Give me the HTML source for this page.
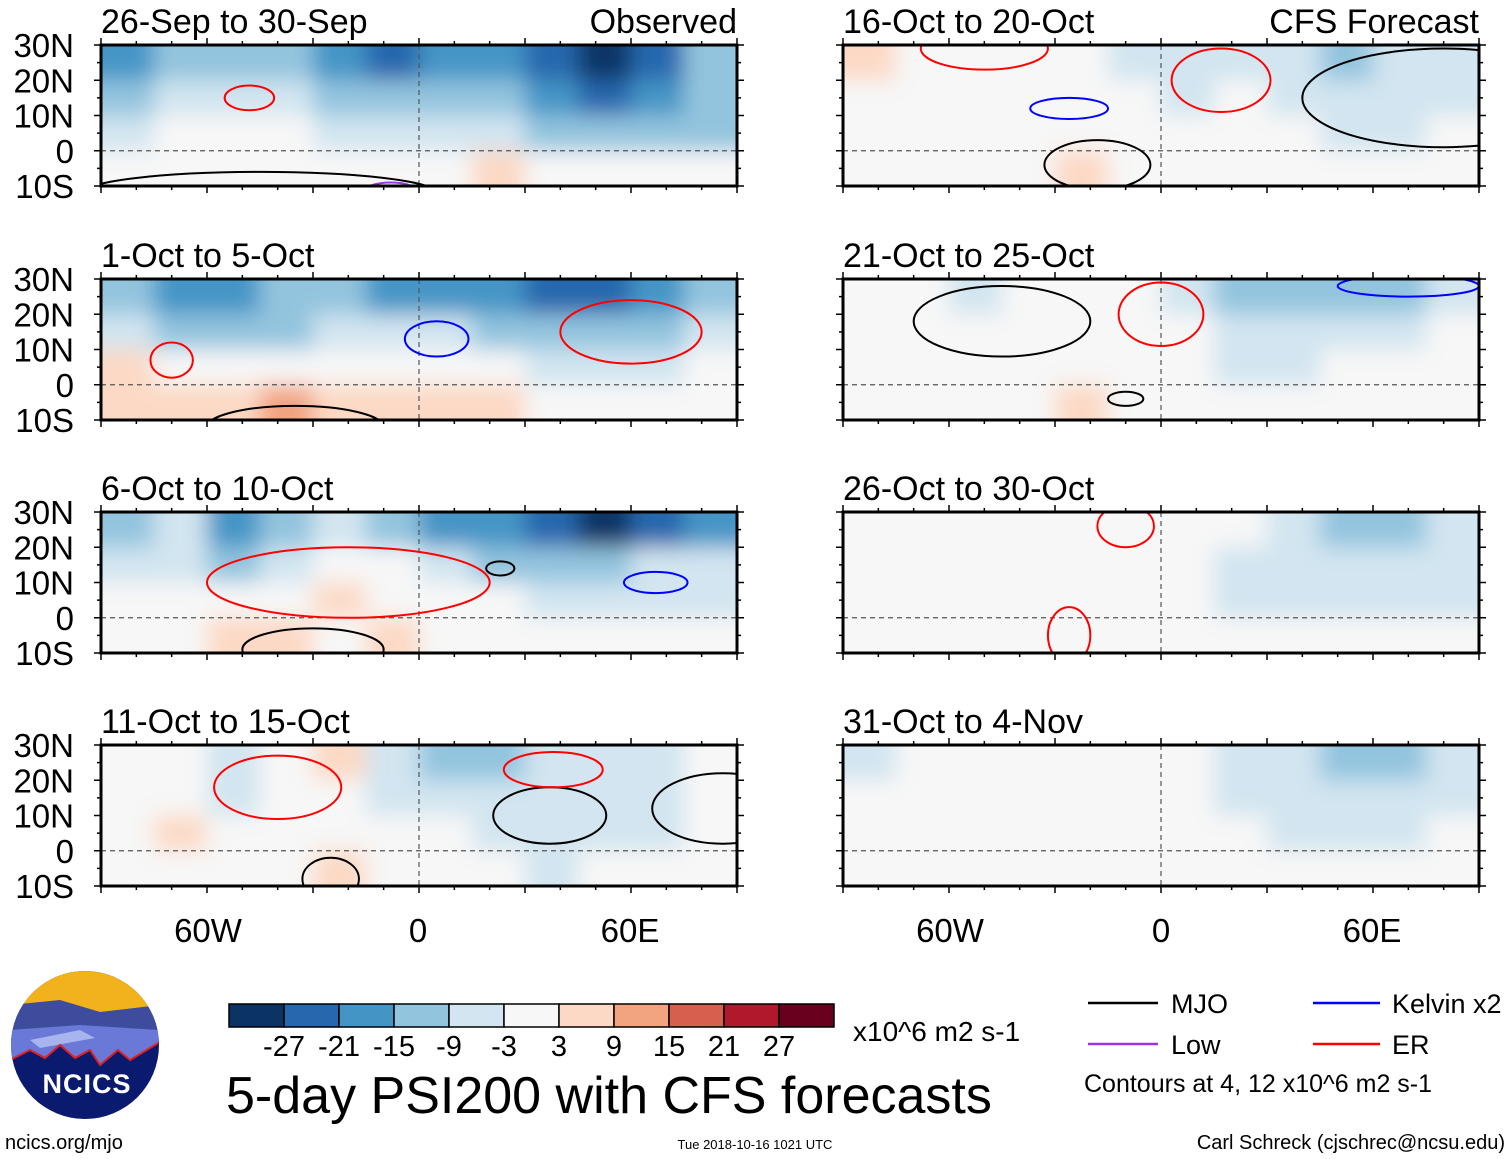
<!DOCTYPE html>
<html><head><meta charset="utf-8">
<style>
body{margin:0;background:#fff;}
svg{display:block;font-family:"Liberation Sans",Arial,sans-serif;}
</style></head><body>
<svg id="fig" width="1510" height="1159" viewBox="0 0 1510 1159" xmlns="http://www.w3.org/2000/svg">
<defs>
<filter id="blur" x="-10%" y="-20%" width="120%" height="140%"><feGaussianBlur stdDeviation="11"/></filter>
</defs>
<g id="panels"></g>
<g font-size="33" text-anchor="middle">
<text x="208" y="942">60W</text><text x="418" y="942">0</text><text x="630" y="942">60E</text>
<text x="950" y="942">60W</text><text x="1161" y="942">0</text><text x="1372" y="942">60E</text>
</g>
<g>
<clipPath id="lc"><circle cx="85" cy="1045" r="74"/></clipPath>
<g clip-path="url(#lc)">
<rect x="10" y="970" width="150" height="150" fill="#0a1a6e"/>
<rect x="10" y="970" width="150" height="45" fill="#f2b21b"/>
<path d="M10 1005 L60 1000 L100 1012 L160 1005 L160 1030 L120 1040 L80 1030 L10 1040Z" fill="#3d4c9c"/>
<path d="M10 1030 L80 1025 L160 1030 L160 1042 L130 1060 L118 1050 L100 1065 L90 1050 L75 1058 L60 1045 L45 1058 L30 1050 L10 1060Z" fill="#6a78d8"/>
<path d="M30 1040 L80 1030 L95 1038 L40 1048Z" fill="#a8b4ee"/>
<path d="M10 1060 L30 1050 L45 1058 L60 1045 L75 1058 L90 1050 L100 1065 L118 1050 L130 1060 L160 1042" fill="none" stroke="#e02020" stroke-width="2"/>
</g>
<text x="87" y="1093" font-size="27" font-weight="bold" fill="#fff" text-anchor="middle" letter-spacing="1">NCICS</text>
</g>
<text x="5" y="1149" font-size="20">ncics.org/mjo</text>
<g id="cbar"></g>
<text x="853" y="1041" font-size="28">x10^6 m2 s-1</text>
<text x="226" y="1113" font-size="52">5-day PSI200 with CFS forecasts</text>
<text x="755" y="1149" font-size="13" text-anchor="middle">Tue 2018-10-16 1021 UTC</text>
<g font-size="27">
<g><line x1="1088" y1="1003" x2="1158" y2="1003" stroke="#000" stroke-width="2.5"/><text x="1171" y="1013">MJO</text></g>
<g><line x1="1313" y1="1003" x2="1380" y2="1003" stroke="#0000ff" stroke-width="2.5"/><text x="1392" y="1013">Kelvin x2</text></g>
<g><line x1="1088" y1="1044" x2="1158" y2="1044" stroke="#9933ee" stroke-width="2.5"/><text x="1171" y="1054">Low</text></g>
<g><line x1="1313" y1="1044" x2="1380" y2="1044" stroke="#ff0000" stroke-width="2.5"/><text x="1392" y="1054">ER</text></g>
<text x="1084" y="1092" font-size="25">Contours at 4, 12 x10^6 m2 s-1</text>
</g>
<text x="1505" y="1149" font-size="20" text-anchor="end">Carl Schreck (cjschrec@ncsu.edu)</text>
</svg>
<script>
const levels = [-27,-21,-15,-9,-3,3,9,15,21,27];
const levelLabels = ["-27","-21","-15","-9","-3","3","9","15","21","27"];
const binColors = ["#0b3465","#2767ad","#4495c6","#93c4de","#d2e5f0","#f7f7f7","#fcd9c5","#f2a37f","#d6604d","#b2182b","#67001f"];
const lonCenters = [-82.5,-67.5,-52.5,-37.5,-22.5,-7.5,7.5,22.5,37.5,52.5,67.5,82.5];
const latCenters = [25,15,5,-5];
const panelTitles = ["26-Sep to 30-Sep","1-Oct to 5-Oct","6-Oct to 10-Oct","11-Oct to 15-Oct","16-Oct to 20-Oct","21-Oct to 25-Oct","26-Oct to 30-Oct","31-Oct to 4-Nov"];
const p1 = [[-15,-12,-12,-9,-15,-21,-18,-15,-21,-27,-21,-12],[-9,-6,-3,-3,-9,-12,-12,-9,-15,-21,-15,-9],[-3,0,0,0,-3,-3,-3,-6,-9,-9,-9,-9],[3,3,0,0,3,3,3,6,3,3,3,3]];
const p2 = [[-12,-15,-18,-9,-9,-15,-15,-15,-21,-21,-15,-12],[-6,-9,-12,-9,-6,-6,-6,-9,-12,-12,-9,-6],[6,3,0,0,0,0,3,3,-3,-3,-3,0],[9,6,6,12,9,6,6,6,3,3,3,3]];
const p3 = [[-9,-6,-15,-9,-6,-9,-15,-15,-21,-27,-21,-15],[-3,-3,-9,-3,0,0,-6,-9,-9,-9,-6,-6],[0,0,0,3,6,3,3,3,-3,-3,-3,-3],[0,0,6,6,3,6,3,3,0,0,0,0]];
const p4 = [[3,0,-3,0,9,-6,-12,-9,-3,-3,-3,0],[0,0,-3,0,0,-3,-6,-6,-6,-3,-3,0],[3,6,0,0,3,0,0,-3,-3,-3,-3,0],[3,0,0,0,9,3,0,0,-3,0,0,0]];
const p5 = [[6,3,0,0,0,-3,-3,-3,-6,-9,-6,-3],[0,0,0,0,0,0,-3,0,-3,-6,-6,-3],[0,0,0,0,3,3,3,0,0,-3,-3,0],[0,0,0,3,6,3,0,3,3,3,3,3]];
const p6 = [[0,0,-3,0,3,3,-3,-9,-12,-12,-9,-3],[0,0,0,0,3,3,0,-6,-6,-6,-3,0],[0,0,0,0,3,3,0,-3,-3,0,0,3],[0,0,0,0,6,3,3,3,3,3,3,3]];
const p7 = [[0,0,0,0,3,3,0,0,-6,-9,-12,-6],[0,0,0,0,3,3,0,-3,-3,-6,-6,-3],[0,0,0,0,3,3,0,-3,-3,-3,-3,-3],[0,0,0,0,0,0,0,0,0,0,0,0]];
const p8 = [[-3,0,0,3,3,0,0,-3,-6,-9,-9,-6],[0,0,0,3,3,0,0,-3,-3,-6,-6,-3],[0,0,0,0,3,0,0,0,-3,-3,-3,0],[0,0,0,0,0,0,0,0,0,0,0,0]];
const fields = [p1,p2,p3,p4,p5,p6,p7,p8];
const c1 = [[-48,15,7,3.5,"e"],[-45,-12,50,6,"m"],[-8,-12,8,3,"l"]];
const c2 = [[5,13,9,5,"k"],[-70,7,6,5,"e"],[60,15,20,9,"e"],[-35,-12,25,6,"m"]];
const c3 = [[-20,10,40,10,"e"],[23,14,4,2,"m"],[67,10,9,3,"k"],[-30,-9,20,6,"m"]];
const c4 = [[37,10,16,8,"m"],[86,12,20,10,"m"],[-40,18,18,9,"e"],[38,23,14,5,"e"],[-25,-8,8,6,"m"]];
const c5 = [[-26,12,11,3,"k"],[-50,29,18,6,"e"],[17,20,14,9,"e"],[-18,-4,15,7,"m"],[80,15,40,14,"m"]];
const c6 = [[0,20,12,9,"e"],[-10,-4,5,2,"m"],[-45,18,25,10,"m"],[70,28,20,3,"k"]];
const c7 = [[-10,26,8,6,"e"],[-26,-5,6,8,"e"]];
const c8 = [];
const contours = [c1,c2,c3,c4,c5,c6,c7,c8];
const contourColors = {m:"#000000",k:"#0000ff",l:"#9933ee",e:"#ff0000"};

const NS="http://www.w3.org/2000/svg";
const W=636, H=141;
const panelX=[101,101,101,101,843,843,843,843];
const panelY=[45,279,512,745,45,279,512,745];
function mk(t,a,p){const e=document.createElementNS(NS,t);for(const k in a)e.setAttribute(k,a[k]);if(p)p.appendChild(e);return e;}
function binColor(v){let i=0;while(i<levels.length&&v>levels[i])i++;return binColors[i];}
const root=document.getElementById('panels');
for(let p=0;p<8;p++){
  const x0=panelX[p], y0=panelY[p];
  const xs=lon=>x0+(lon+90)*W/180;
  const ys=lat=>y0+(30-lat)*H/40;
  const g=mk('g',{},root);
  
  
  const cp=mk('clipPath',{id:'cp'+p},g);
  mk('rect',{x:x0,y:y0,width:W,height:H},cp);
  const inner=mk('g',{'clip-path':'url(#cp'+p+')'},g);
  mk('rect',{x:x0,y:y0,width:W,height:H,fill:'#f7f7f7'},inner);
  const fg=mk('g',{filter:'url(#blur)'},inner);
  
  
  const f=fields[p];
  for(let r=0;r<latCenters.length;r++){
    for(let c=0;c<lonCenters.length;c++){
      const lat=latCenters[r], lon=lonCenters[c];
      let x1=xs(lon-7.5), x2=xs(lon+7.5), y1=ys(lat+5), y2=ys(lat-5);
      if(c===0)x1-=40; if(c===lonCenters.length-1)x2+=40;
      if(r===0)y1-=40; if(r===latCenters.length-1)y2+=40;
      const cell=mk('rect',{x:x1,y:y1,width:x2-x1+0.5,height:y2-y1+0.5,fill:binColor(f[r][c])},fg);
      
      
    }
  }
  mk('line',{x1:x0,y1:ys(0),x2:x0+W,y2:ys(0),stroke:'#555','stroke-dasharray':'5,4','stroke-width':1.2},inner);
  mk('line',{x1:xs(0),y1:y0,x2:xs(0),y2:y0+H,stroke:'#555','stroke-dasharray':'5,4','stroke-width':1.2},inner);
  for(const ct of contours[p]){
    const el=mk('ellipse',{cx:xs(ct[0]),cy:ys(ct[1]),rx:ct[2]*W/180,ry:ct[3]*H/40,fill:'none',stroke:contourColors[ct[4]],'stroke-width':2},inner);
    
    
  }
  const fr=mk('rect',{x:x0,y:y0,width:W,height:H,fill:'none',stroke:'#000','stroke-width':3},g);
  
  
  for(let lon=-90;lon<=90;lon+=10){
    const major=lon%30===0;
    mk('line',{x1:xs(lon),y1:y0+H,x2:xs(lon),y2:y0+H+(major?7:4),stroke:'#000','stroke-width':1.5},g);
    mk('line',{x1:xs(lon),y1:y0,x2:xs(lon),y2:y0-(major?7:4),stroke:'#000','stroke-width':1.5},g);
  }
  for(let lat=-10;lat<=30;lat+=5){
    const major=lat%10===0;
    mk('line',{x1:x0,y1:ys(lat),x2:x0-(major?7:4),y2:ys(lat),stroke:'#000','stroke-width':1.5},g);
    mk('line',{x1:x0+W,y1:ys(lat),x2:x0+W+(major?7:4),y2:ys(lat),stroke:'#000','stroke-width':1.5},g);
  }
  const t=mk('text',{x:x0,y:y0-12,'font-size':34},g);
  t.textContent=panelTitles[p];
  
  
  if(p===0||p===4){
    const s=mk('text',{x:x0+W,y:y0-12,'font-size':34,'text-anchor':'end'},g);
    s.textContent=p===0?'Observed':'CFS Forecast';
    
    
  }
  if(p<4){
    const labs=['30N','20N','10N','0','10S'];
    labs.forEach((l,i)=>{
      const yl=mk('text',{x:74,y:ys(30-10*i)+12,'font-size':33,'text-anchor':'end'},g);
      yl.textContent=l;
      
      
    });
  }
}
const cb=document.getElementById('cbar');
const cbX=229, cbY=1004, cbW=55, cbH=23;
binColors.forEach((col,i)=>{
  const r=mk('rect',{x:cbX+i*cbW,y:cbY,width:cbW,height:cbH,fill:col,stroke:'#000','stroke-width':1.5},cb);
  
  
});
levelLabels.forEach((l,i)=>{
  const t=mk('text',{x:cbX+(i+1)*cbW,y:1056,'font-size':29,'text-anchor':'middle'},cb);
  t.textContent=l;
  
  
});
</script>
</body></html>
